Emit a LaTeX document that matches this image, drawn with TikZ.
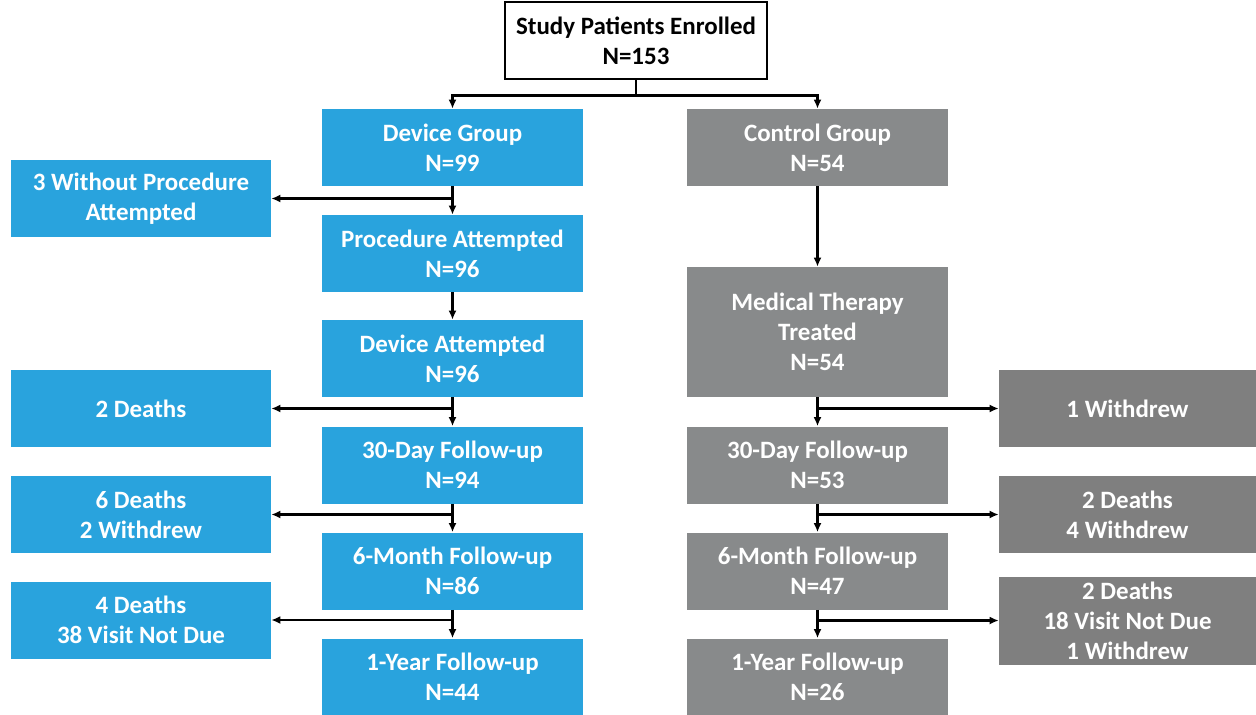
\documentclass[tikz,border=0pt]{standalone}
\usepackage{fontspec}
\setmainfont{Carlito}
\usetikzlibrary{arrows.meta}
\definecolor{devblue}{HTML}{29A3DD}
\definecolor{ctlgray}{HTML}{888A8B}
\definecolor{outgray}{HTML}{7F7F7F}
\tikzset{bx/.style={minimum width=5.22cm, minimum height=1.54cm, inner sep=0pt, align=center,
    font=\fontsize{14.2}{17}\selectfont\bfseries, text=white}}
\tikzset{dv/.style={bx, fill=devblue}}
\tikzset{ct/.style={bx, fill=ctlgray}}
\tikzset{og/.style={bx, fill=outgray, minimum width=5.14cm}}
\tikzset{ln/.style={line width=0.05cm, -{Latex[length=1.8mm,width=1.6mm]}}}

\begin{document}
\begin{tikzpicture}[x=0.02cm, y=-0.02cm]
                \useasboundingbox (0,0) rectangle (1256,714);
                % top
                \node[bx, draw, line width=0.03cm, text=black, minimum width=5.24cm] (top) at (636,40.5) {Study Patients Enrolled\\N=153};
                % device arm
                \node[dv] (d1) at (452.5,147.5) {Device Group\\N=99};
                \node[dv] (d2) at (452.5,253.5) {Procedure Attempted\\N=96};
                \node[dv] (d3) at (452.5,358.5) {Device Attempted\\N=96};
                \node[dv] (d4) at (452.5,465) {30-Day Follow-up\\N=94};
                \node[dv] (d5) at (452.5,571) {6-Month Follow-up\\N=86};
                \node[dv, minimum height=1.52cm] (d6) at (452.5,676.5) {1-Year Follow-up\\N=44};
                \node[dv, minimum width=5.2cm] (l1) at (141,198.5) {3 Without Procedure\\Attempted};
                \node[dv, minimum width=5.2cm] (l2) at (141,408.5) {2 Deaths};
                \node[dv, minimum width=5.2cm] (l3) at (141,514.5) {6 Deaths\\2 Withdrew};
                \node[dv, minimum width=5.2cm] (l4) at (141,620) {4 Deaths\\38 Visit Not Due};
                % control arm
                \node[ct] (c1) at (817.5,147.5) {Control Group\\N=54};
                \node[ct, minimum height=2.6cm] (c2) at (817.5,332) {Medical Therapy\\Treated\\N=54};
                \node[ct] (c3) at (817.5,465) {30-Day Follow-up\\N=53};
                \node[ct] (c4) at (817.5,571) {6-Month Follow-up\\N=47};
                \node[ct, minimum height=1.52cm] (c5) at (817.5,676.5) {1-Year Follow-up\\N=26};
                \node[og] (r1) at (1127.5,408.5) {1 Withdrew};
                \node[og] (r2) at (1127.5,514.5) {2 Deaths\\4 Withdrew};
                \node[og, minimum height=1.76cm] (r3) at (1127.5,620.5) {2 Deaths\\18 Visit Not Due\\1 Withdrew};
                % connectors
                \draw[line width=0.05cm] (top.south) -- ++(0,16) coordinate (split);
                \draw[ln] (split) -| (d1.north);
                \draw[ln] (split) -| (c1.north);
                \draw[ln] (d1) -- (d2);
                \draw[ln] (d2) -- (d3);
                \draw[ln] (d3) -- (d4);
                \draw[ln] (d4) -- (d5);
                \draw[ln] (d5) -- (d6);
                \draw[ln] (c1) -- (c2);
                \draw[ln] (c2) -- (c3);
                \draw[ln] (c3) -- (c4);
                \draw[ln] (c4) -- (c5);
                \draw[ln] (d1.south |- l1) -- (l1.east);
                \draw[ln] (d3.south |- l2) -- (l2.east);
                \draw[ln] (d4.south |- l3) -- (l3.east);
                \draw[ln] (d5.south |- l4) -- (l4.east);
                \draw[ln] (c2.south |- r1) -- (r1.west);
                \draw[ln] (c3.south |- r2) -- (r2.west);
                \draw[ln] (c4.south |- r3) -- (r3.west);
            \end{tikzpicture}
\end{document}
